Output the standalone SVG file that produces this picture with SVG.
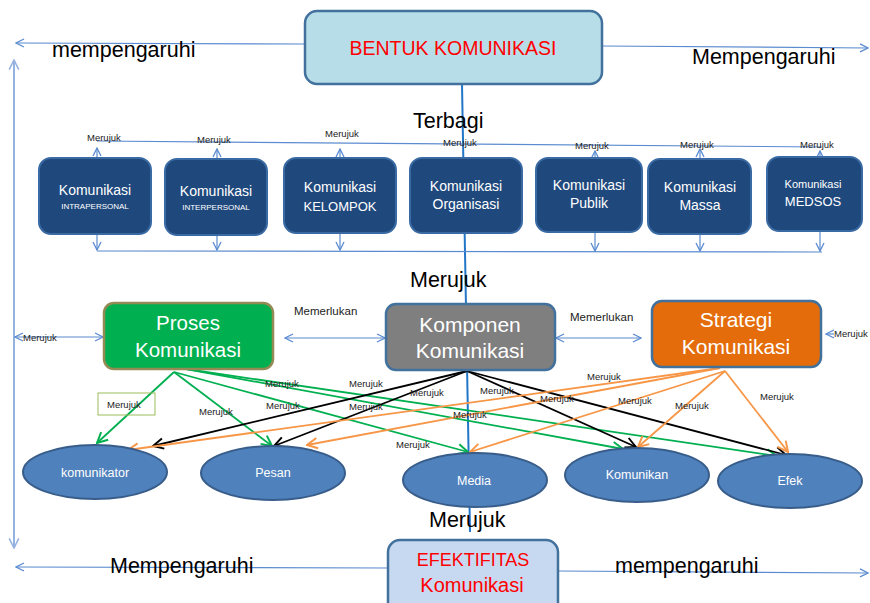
<svg xmlns="http://www.w3.org/2000/svg" width="870" height="603" viewBox="0 0 870 603">
<style>
text{font-family:"Liberation Sans",Arial,sans-serif;}
.big{font-size:21.5px;fill:#000;}
.sm{font-size:9.5px;fill:#222;}
.mid{font-size:11.5px;fill:#222;}
.bl{stroke:#5b8bd0;stroke-width:1.2;fill:none;}
.g{stroke:#00b050;stroke-width:1.8;fill:none;marker-end:url(#mg);}
.k{stroke:#000;stroke-width:1.8;fill:none;marker-end:url(#mk);}
.o{stroke:#f79646;stroke-width:1.8;fill:none;marker-end:url(#mo);}
.db{fill:#1f497d;stroke:#3a6aa3;stroke-width:2;}
.dt{fill:#fff;text-anchor:middle;}
.el{fill:#4f81bd;stroke:#385d8a;stroke-width:2;}
.et{fill:#fff;font-size:12.5px;text-anchor:middle;}
</style>
<defs>
<marker id="mb" viewBox="0 0 10 10" refX="9" refY="5" markerWidth="10" markerHeight="10" markerUnits="userSpaceOnUse" orient="auto-start-reverse"><path d="M1,1 L9,5 L1,9" fill="none" stroke="#5b8bd0" stroke-width="1.3"/></marker>
<marker id="mbl" viewBox="0 0 10 10" refX="9" refY="5" markerWidth="12" markerHeight="12" markerUnits="userSpaceOnUse" orient="auto-start-reverse"><path d="M1,1 L9,5 L1,9" fill="none" stroke="#95b3e0" stroke-width="1.3"/></marker>
<marker id="mg" viewBox="0 0 10 10" refX="9" refY="5" markerWidth="13" markerHeight="13" markerUnits="userSpaceOnUse" orient="auto"><path d="M1,1 L9,5 L1,9" fill="none" stroke="#00b050" stroke-width="1.5"/></marker>
<marker id="mk" viewBox="0 0 10 10" refX="9" refY="5" markerWidth="13" markerHeight="13" markerUnits="userSpaceOnUse" orient="auto"><path d="M1,1 L9,5 L1,9" fill="none" stroke="#000" stroke-width="1.5"/></marker>
<marker id="mo" viewBox="0 0 10 10" refX="9" refY="5" markerWidth="13" markerHeight="13" markerUnits="userSpaceOnUse" orient="auto"><path d="M1,1 L9,5 L1,9" fill="none" stroke="#f79646" stroke-width="1.5"/></marker>
</defs>
<rect width="870" height="603" fill="#fff"/>
<g id="connectors">
<line class="bl" x1="305" y1="44" x2="16" y2="43" marker-end="url(#mb)"/>
<line class="bl" x1="602" y1="46" x2="868" y2="48" marker-end="url(#mb)"/>
<line x1="14" y1="60" x2="14" y2="548" stroke="#95b3e0" stroke-width="2" marker-start="url(#mbl)" marker-end="url(#mbl)"/>
<line x1="462" y1="84" x2="470" y2="532" stroke="#2176c8" stroke-width="2"/>
<line class="bl" x1="97" y1="141" x2="822" y2="147"/>
<line class="bl" x1="97" y1="251" x2="822" y2="252"/>
<g class="bl">
<line x1="97" y1="158" x2="97" y2="148" marker-end="url(#mb)"/>
<line x1="217" y1="159" x2="217" y2="149" marker-end="url(#mb)"/>
<line x1="340" y1="158" x2="340" y2="149" marker-end="url(#mb)"/>
<line x1="595" y1="158" x2="595" y2="151" marker-end="url(#mb)"/>
<line x1="700" y1="159" x2="700" y2="149" marker-end="url(#mb)"/>
<line x1="820" y1="157" x2="820" y2="151" marker-end="url(#mb)"/>
<line x1="97" y1="234" x2="97" y2="250" marker-end="url(#mb)"/>
<line x1="217" y1="235" x2="217" y2="250" marker-end="url(#mb)"/>
<line x1="340" y1="233" x2="340" y2="250" marker-end="url(#mb)"/>
<line x1="595" y1="232" x2="595" y2="251" marker-end="url(#mb)"/>
<line x1="700" y1="234" x2="700" y2="251" marker-end="url(#mb)"/>
<line x1="820" y1="231" x2="820" y2="251" marker-end="url(#mb)"/>
<line x1="15" y1="337" x2="103" y2="337" marker-start="url(#mb)" marker-end="url(#mb)"/>
<line x1="285" y1="338" x2="385" y2="338" marker-start="url(#mb)" marker-end="url(#mb)"/>
<line x1="556" y1="338" x2="641" y2="338" marker-start="url(#mb)" marker-end="url(#mb)"/>
<line x1="834" y1="334" x2="826" y2="334" marker-end="url(#mb)"/>
<line x1="388" y1="568" x2="16" y2="567" marker-end="url(#mb)"/>
<line x1="558" y1="571" x2="868" y2="573" marker-end="url(#mb)"/>
</g>
<line class="g" x1="174" y1="372" x2="97" y2="443"/>
<line class="g" x1="174" y1="372" x2="272" y2="446"/>
<line class="g" x1="174" y1="372" x2="468" y2="452"/>
<line class="g" x1="186" y1="369" x2="623" y2="449"/>
<line class="g" x1="186" y1="369" x2="777" y2="456"/>
<line class="k" x1="467" y1="371" x2="153" y2="446"/>
<line class="k" x1="467" y1="371" x2="274" y2="446"/>
<line class="k" x1="467" y1="371" x2="636" y2="447"/>
<line class="k" x1="467" y1="371" x2="786" y2="455"/>
<line class="o" x1="720" y1="368" x2="128" y2="450"/>
<line class="o" x1="720" y1="368" x2="307" y2="445"/>
<line class="o" x1="725" y1="371" x2="470" y2="452"/>
<line class="o" x1="725" y1="371" x2="638" y2="447"/>
<line class="o" x1="725" y1="371" x2="788" y2="452"/>
</g>
<g id="bentuk">
<rect x="305" y="11" width="297" height="73" rx="12" fill="#b7dee8" stroke="#41719c" stroke-width="2.5"/>
<text x="453" y="55" font-size="19.5" fill="#ff0000" text-anchor="middle">BENTUK KOMUNIKASI</text>
</g>
<g id="intrapersonal">
<rect class="db" x="39" y="158" width="112" height="76" rx="12"/>
<text class="dt" x="95" y="195" font-size="14">Komunikasi</text>
<text class="dt" x="95" y="209" font-size="8">INTRAPERSONAL</text>
</g>
<g id="interpersonal">
<rect class="db" x="165" y="159" width="102" height="76" rx="12"/>
<text class="dt" x="216" y="196" font-size="14">Komunikasi</text>
<text class="dt" x="216" y="210" font-size="8">INTERPERSONAL</text>
</g>
<g id="kelompok">
<rect class="db" x="284" y="158" width="112" height="75" rx="12"/>
<text class="dt" x="340" y="192" font-size="14">Komunikasi</text>
<text class="dt" x="340" y="211" font-size="13">KELOMPOK</text>
</g>
<g id="organisasi">
<rect class="db" x="410" y="158" width="112" height="75" rx="12"/>
<text class="dt" x="466" y="191" font-size="14">Komunikasi</text>
<text class="dt" x="466" y="209" font-size="14">Organisasi</text>
</g>
<g id="publik">
<rect class="db" x="536" y="158" width="106" height="74" rx="12"/>
<text class="dt" x="589" y="190" font-size="14">Komunikasi</text>
<text class="dt" x="589" y="208" font-size="14">Publik</text>
</g>
<g id="massa">
<rect class="db" x="648" y="159" width="103" height="75" rx="12"/>
<text class="dt" x="700" y="192" font-size="14">Komunikasi</text>
<text class="dt" x="700" y="210" font-size="14">Massa</text>
</g>
<g id="medsos">
<rect class="db" x="767" y="157" width="95" height="74" rx="12"/>
<text class="dt" x="813" y="188" font-size="11">Komunikasi</text>
<text class="dt" x="813" y="206" font-size="13">MEDSOS</text>
</g>
<g id="proses">
<rect x="104" y="303" width="169" height="66" rx="10" fill="#00b050" stroke="#948a54" stroke-width="2.5"/>
<text class="dt" x="188" y="330" font-size="20.5">Proses</text>
<text class="dt" x="188" y="357" font-size="20.5">Komunikasi</text>
</g>
<g id="komponen">
<rect x="386" y="304" width="169" height="66" rx="10" fill="#7f7f7f" stroke="#41719c" stroke-width="2.5"/>
<text class="dt" x="470" y="332" font-size="21">Komponen</text>
<text class="dt" x="470" y="358" font-size="21">Komunikasi</text>
</g>
<g id="strategi">
<rect x="652" y="301" width="169" height="66" rx="10" fill="#e46c0a" stroke="#41719c" stroke-width="2.5"/>
<text class="dt" x="736" y="327" font-size="21">Strategi</text>
<text class="dt" x="736" y="354" font-size="21">Komunikasi</text>
</g>
<g id="komunikator">
<ellipse class="el" cx="95" cy="472" rx="72" ry="27"/>
<text class="et" x="95" y="477">komunikator</text>
</g>
<g id="pesan">
<ellipse class="el" cx="273" cy="473" rx="72" ry="27"/>
<text class="et" x="273" y="477">Pesan</text>
</g>
<g id="media">
<ellipse class="el" cx="475" cy="480" rx="72" ry="27"/>
<text class="et" x="474" y="485">Media</text>
</g>
<g id="komunikan">
<ellipse class="el" cx="637" cy="475" rx="72" ry="27"/>
<text class="et" x="637" y="479">Komunikan</text>
</g>
<g id="efek">
<ellipse class="el" cx="790" cy="481" rx="72" ry="27"/>
<text class="et" x="790" y="485">Efek</text>
</g>
<g id="efektifitas">
<rect x="388" y="540" width="170" height="75" rx="12" fill="#c6d9f1" stroke="#41719c" stroke-width="2.5"/>
<text x="473" y="566" font-size="18" fill="#ff0000" text-anchor="middle">EFEKTIFITAS</text>
<text x="472" y="592" font-size="20" fill="#ff0000" text-anchor="middle">Komunikasi</text>
</g>
<g id="labels">
<text class="big" x="52" y="57">mempengaruhi</text>
<text class="big" x="692" y="64">Mempengaruhi</text>
<text class="big" x="413" y="128" font-size="20">Terbagi</text>
<text class="big" x="410" y="287">Merujuk</text>
<text class="big" x="429" y="527">Merujuk</text>
<text class="big" x="110" y="573">Mempengaruhi</text>
<text class="big" x="615" y="573">mempengaruhi</text>
<text class="sm" x="87" y="141">Merujuk</text>
<text class="sm" x="197" y="143">Merujuk</text>
<text class="sm" x="325" y="137">Merujuk</text>
<text class="sm" x="443" y="146">Merujuk</text>
<text class="sm" x="575" y="149">Merujuk</text>
<text class="sm" x="680" y="148">Merujuk</text>
<text class="sm" x="800" y="148">Merujuk</text>
<text class="mid" x="294" y="315">Memerlukan</text>
<text class="mid" x="570" y="321">Memerlukan</text>
<text class="sm" x="23" y="341">Merujuk</text>
<text class="sm" x="834" y="337">Merujuk</text>
<rect x="98" y="393" width="57" height="22" fill="none" stroke="#9bbb59" stroke-width="1"/>
<text class="sm" x="107" y="408">Merujuk</text>
<text class="sm" x="265" y="387">Merujuk</text>
<text class="sm" x="349" y="387">Merujuk</text>
<text class="sm" x="199" y="415">Merujuk</text>
<text class="sm" x="266" y="409">Merujuk</text>
<text class="sm" x="349" y="410">Merujuk</text>
<text class="sm" x="410" y="396">Merujuk</text>
<text class="sm" x="480" y="394">Merujuk</text>
<text class="sm" x="453" y="418">Merujuk</text>
<text class="sm" x="396" y="448">Merujuk</text>
<text class="sm" x="540" y="402">Merujuk</text>
<text class="sm" x="587" y="380">Merujuk</text>
<text class="sm" x="618" y="404">Merujuk</text>
<text class="sm" x="675" y="409">Merujuk</text>
<text class="sm" x="760" y="400">Merujuk</text>
</g>
</svg>
